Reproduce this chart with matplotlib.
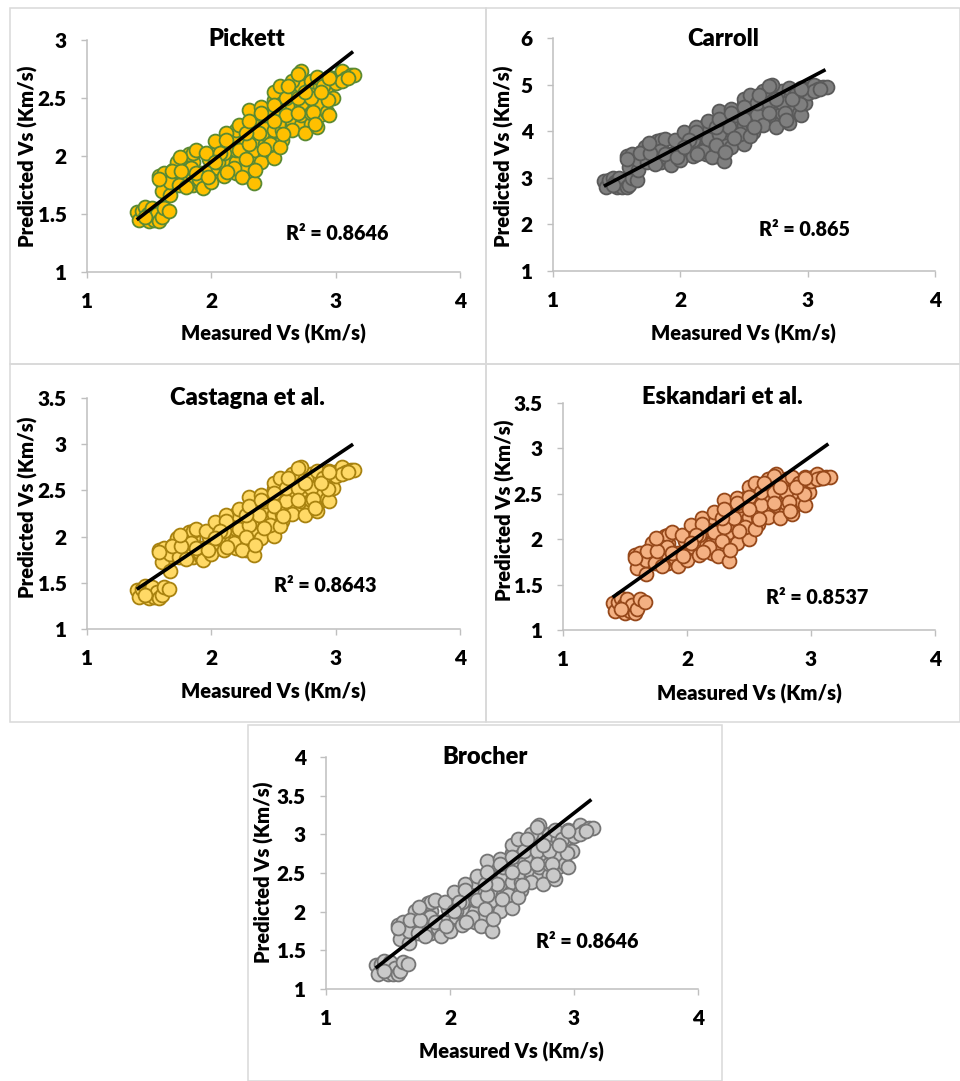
import matplotlib
matplotlib.use("Agg")
import matplotlib.pyplot as plt
from matplotlib.patches import Rectangle

plt.rcParams['font.family'] = ['Lato', 'DejaVu Sans']
plt.rcParams['font.weight'] = 'heavy'

measured_back = [
 1.51,1.47,1.58,1.43,1.60,
 1.65,1.65,1.72,1.72,1.78,1.78,1.85,1.85,1.85,1.92,1.92,1.98,1.98,
 2.05,2.05,2.05,2.12,2.12,2.12,2.20,2.20,2.20,2.20,2.20,
 2.28,2.28,2.28,2.28,2.28,2.35,2.35,2.35,2.35,2.35,2.35,
 2.43,2.43,2.43,2.43,2.43,2.50,2.50,2.50,2.50,2.50,
 2.57,2.57,2.57,2.57,2.57,2.65,2.65,2.65,2.65,
 2.72,2.72,2.72,2.72,2.80,2.80,2.80,2.80,
 2.87,2.87,2.87,2.93,2.93,2.93,3.02,3.08]
pickett_back = [
 1.47,1.52,1.50,1.50,1.78,
 1.75,1.82,1.80,1.88,1.80,1.95,1.75,1.83,1.95,1.75,1.85,1.88,1.97,
 1.85,1.90,2.05,1.90,1.97,2.05,1.85,1.95,2.05,2.14,2.22,
 1.83,1.90,2.03,2.13,2.27,1.95,2.05,2.14,2.22,2.30,2.37,
 2.00,2.10,2.19,2.28,2.35,2.05,2.14,2.22,2.37,2.48,
 2.14,2.22,2.30,2.44,2.50,2.27,2.30,2.44,2.55,
 2.27,2.35,2.44,2.60,2.28,2.37,2.60,2.65,
 2.35,2.44,2.60,2.38,2.55,2.60,2.68,2.70]
carroll_back = [
 2.85,2.93,2.90,2.90,3.38,
 3.33,3.45,3.41,3.55,3.41,3.67,3.33,3.46,3.67,3.33,3.50,3.55,3.70,
 3.50,3.58,3.84,3.58,3.70,3.84,3.50,3.67,3.84,3.99,4.13,
 3.46,3.58,3.81,3.98,4.22,3.67,3.84,3.99,4.13,4.27,4.39,
 3.76,3.93,4.08,4.23,4.35,3.84,3.99,4.13,4.39,4.58,
 3.99,4.13,4.27,4.51,4.61,4.22,4.27,4.51,4.70,
 4.22,4.35,4.51,4.78,4.23,4.39,4.78,4.87,
 4.35,4.51,4.78,4.40,4.70,4.78,4.92,4.95]
castagna_back = [
 1.37,1.42,1.40,1.40,1.81,
 1.78,1.85,1.83,1.91,1.83,1.98,1.78,1.86,1.98,1.78,1.88,1.91,2.00,
 1.88,1.93,2.08,1.93,2.00,2.08,1.88,1.98,2.08,2.17,2.25,
 1.86,1.93,2.06,2.16,2.30,1.98,2.08,2.17,2.25,2.33,2.40,
 2.03,2.13,2.22,2.31,2.38,2.08,2.17,2.25,2.40,2.51,
 2.17,2.25,2.33,2.47,2.53,2.30,2.33,2.47,2.58,
 2.30,2.38,2.47,2.63,2.31,2.40,2.63,2.68,
 2.38,2.47,2.63,2.41,2.58,2.63,2.71,2.72]
eskandari_back = [
 1.23,1.30,1.27,1.27,1.77,
 1.74,1.82,1.79,1.88,1.79,1.96,1.74,1.83,1.96,1.74,1.85,1.88,1.98,
 1.85,1.91,2.08,1.91,1.98,2.08,1.85,1.96,2.08,2.17,2.25,
 1.83,1.91,2.05,2.16,2.30,1.96,2.08,2.17,2.25,2.33,2.40,
 2.02,2.13,2.22,2.31,2.38,2.08,2.17,2.25,2.40,2.50,
 2.17,2.25,2.33,2.46,2.52,2.30,2.33,2.46,2.57,
 2.30,2.38,2.46,2.62,2.31,2.40,2.62,2.66,
 2.38,2.46,2.62,2.41,2.57,2.62,2.68,2.69]
brocher_back = [
 1.23,1.31,1.27,1.27,1.75,
 1.72,1.82,1.79,1.90,1.79,2.01,1.72,1.83,2.01,1.72,1.86,1.90,2.04,
 1.86,1.93,2.15,1.93,2.04,2.15,1.86,2.01,2.15,2.28,2.39,
 1.83,1.93,2.12,2.26,2.46,2.01,2.15,2.28,2.39,2.51,2.61,
 2.08,2.22,2.35,2.48,2.58,2.15,2.28,2.39,2.61,2.76,
 2.28,2.39,2.51,2.71,2.79,2.46,2.51,2.71,2.86,
 2.46,2.58,2.71,2.94,2.48,2.61,2.94,3.01,
 2.58,2.71,2.94,2.62,2.86,2.94,3.05,3.08]

measured = [
 1.40,1.42,1.44,1.47,1.49,1.50,1.52,1.54,1.56,1.58,
 1.60,1.62,1.66,1.47,1.58,1.60,1.62,1.67,1.67,1.69,
 1.72,1.74,1.80,1.82,1.85,1.88,1.84,1.90,1.93,1.88,
 1.96,2.00,2.03,2.05,2.10,2.12,2.10,2.22,2.18,2.25,
 2.22,2.30,2.30,2.28,2.40,2.40,2.38,2.50,2.50,2.47,
 2.55,2.55,2.60,2.65,2.60,2.65,2.72,2.70,2.75,2.80,
 2.85,2.85,2.90,2.95,2.98,2.95,3.00,3.05,3.12,3.15,
 3.08,3.05,2.34,2.35,1.58,1.68,1.76,1.75,1.97,2.13,
 2.42,2.12,2.28,2.30,2.40,2.50,2.50,2.58,2.70,2.82,
 2.83,2.94,2.88,2.70,2.95,3.10,2.07,2.03,2.62,2.75]
pickett = [
 1.52,1.45,1.53,1.56,1.50,1.44,1.55,1.45,1.50,1.44,
 1.47,1.55,1.53,1.47,1.83,1.70,1.85,1.66,1.78,1.88,
 1.95,1.75,1.73,2.02,2.03,2.05,1.90,1.80,1.72,1.85,
 2.03,1.78,2.13,1.95,1.83,2.20,2.03,2.27,1.90,1.82,
 2.05,2.40,2.10,1.97,2.42,1.95,2.20,2.55,1.98,2.10,
 2.08,2.60,2.35,2.22,2.50,2.65,2.73,2.50,2.20,2.50,
 2.25,2.68,2.60,2.35,2.50,2.68,2.63,2.73,2.70,2.70,
 2.67,2.65,1.77,1.88,1.80,1.87,1.87,1.99,1.82,1.86,
 2.06,2.14,2.20,2.30,2.37,2.44,2.30,2.19,2.37,2.38,
 2.28,2.48,2.55,2.71,2.67,2.67,2.03,1.95,2.60,2.55]
carroll = [
 2.93,2.81,2.95,3.00,2.90,2.80,2.99,2.81,2.90,2.80,
 2.85,2.99,2.95,2.85,3.46,3.24,3.50,3.17,3.38,3.55,
 3.67,3.33,3.29,3.79,3.81,3.84,3.58,3.41,3.28,3.50,
 3.81,3.38,3.98,3.67,3.46,4.10,3.81,4.22,3.58,3.45,
 3.84,4.44,3.93,3.70,4.47,3.67,4.10,4.70,3.72,3.93,
 3.89,4.78,4.35,4.13,4.61,4.87,5.00,4.61,4.10,4.61,
 4.18,4.92,4.78,4.35,4.61,4.92,4.83,5.00,4.95,4.95,
 4.90,4.87,3.36,3.55,3.41,3.53,3.53,3.74,3.45,3.52,
 3.86,3.99,4.10,4.27,4.39,4.51,4.27,4.08,4.39,4.40,
 4.23,4.58,4.70,4.97,4.90,4.90,3.81,3.67,4.78,4.70]
castagna = [
 1.42,1.35,1.43,1.46,1.40,1.34,1.45,1.35,1.40,1.34,
 1.37,1.45,1.43,1.37,1.86,1.73,1.88,1.63,1.81,1.91,
 1.98,1.78,1.76,2.05,2.06,2.08,1.93,1.83,1.75,1.88,
 2.06,1.81,2.16,1.98,1.86,2.23,2.06,2.30,1.93,1.85,
 2.08,2.43,2.13,2.00,2.45,1.98,2.23,2.58,2.01,2.13,
 2.11,2.63,2.38,2.25,2.53,2.68,2.75,2.53,2.23,2.53,
 2.28,2.71,2.63,2.38,2.53,2.71,2.66,2.75,2.72,2.72,
 2.70,2.68,1.80,1.91,1.83,1.90,1.90,2.02,1.85,1.89,
 2.09,2.17,2.23,2.33,2.40,2.47,2.33,2.22,2.40,2.41,
 2.31,2.51,2.58,2.74,2.70,2.70,2.06,1.98,2.63,2.58]
eskandari = [
 1.30,1.21,1.31,1.35,1.27,1.19,1.34,1.21,1.27,1.19,
 1.23,1.34,1.31,1.23,1.83,1.68,1.85,1.62,1.77,1.88,
 1.96,1.74,1.71,2.04,2.05,2.08,1.91,1.79,1.70,1.85,
 2.05,1.77,2.16,1.96,1.83,2.23,2.05,2.30,1.91,1.82,
 2.08,2.43,2.13,1.98,2.45,1.96,2.23,2.57,2.00,2.13,
 2.11,2.62,2.38,2.25,2.52,2.66,2.72,2.52,2.23,2.52,
 2.28,2.68,2.62,2.38,2.52,2.68,2.64,2.72,2.69,2.69,
 2.67,2.66,1.76,1.88,1.79,1.87,1.87,2.01,1.82,1.86,
 2.09,2.17,2.23,2.33,2.40,2.46,2.33,2.22,2.40,2.41,
 2.31,2.50,2.57,2.70,2.67,2.67,2.05,1.96,2.62,2.57]
brocher = [
 1.31,1.20,1.32,1.36,1.27,1.19,1.35,1.20,1.27,1.19,
 1.23,1.35,1.32,1.23,1.83,1.65,1.86,1.59,1.75,1.90,
 2.01,1.72,1.69,2.11,2.12,2.15,1.93,1.79,1.68,1.86,
 2.12,1.75,2.26,2.01,1.83,2.36,2.12,2.46,1.93,1.82,
 2.15,2.65,2.22,2.04,2.68,2.01,2.36,2.86,2.05,2.22,
 2.19,2.94,2.58,2.39,2.79,3.01,3.12,2.79,2.36,2.79,
 2.42,3.05,2.94,2.58,2.79,3.05,2.98,3.12,3.08,3.08,
 3.04,3.01,1.75,1.90,1.79,1.89,1.89,2.06,1.82,1.87,
 2.16,2.28,2.36,2.51,2.61,2.71,2.51,2.35,2.61,2.62,
 2.48,2.76,2.86,3.09,3.04,3.04,2.12,2.01,2.94,2.86]

trend_x = [1.40, 3.14]
pickett_trend = [1.45, 2.90]
carroll_trend = [2.82, 5.32]
castagna_trend = [1.43, 3.00]
eskandari_trend = [1.36, 3.05]
brocher_trend = [1.27, 3.45]

x_ticks = [1, 2, 3, 4]
pickett_ticks = [1, 1.5, 2, 2.5, 3]
carroll_ticks = [1, 2, 3, 4, 5, 6]
castagna_ticks = [1, 1.5, 2, 2.5, 3, 3.5]
eskandari_ticks = [1, 1.5, 2, 2.5, 3, 3.5]
brocher_ticks = [1, 1.5, 2, 2.5, 3, 3.5, 4]

W, H = 960, 1081
fig = plt.figure(figsize=(W/100, H/100), dpi=100, facecolor='white')

def fx(p): return p / W
def fy(p): return 1 - p / H

panels = [
 dict(name='Pickett', y=pickett_back + pickett, tr=pickett_trend, ticks=pickett_ticks, fill='#FFC000', edge='#5B8A32',
      frame=(10,8,486,364), ax=(87,460,272,40), title=(247,39), r2='R² = 0.8646', rp=(337,233),
      xl=(273,334), yl=(28,156)),
 dict(name='Carroll', y=carroll_back + carroll, tr=carroll_trend, ticks=carroll_ticks, fill='#7F7F7F', edge='#5A5A5A',
      frame=(486,8,960,364), ax=(553,935,271,38), title=(723,39), r2='R² = 0.865', rp=(804,229),
      xl=(743,334), yl=(504,156)),
 dict(name='Castagna et al.', y=castagna_back + castagna, tr=castagna_trend, ticks=castagna_ticks, fill='#FFD966', edge='#A8820F',
      frame=(10,364,486,722), ax=(87,460,629,398), title=(247,398), r2='R² = 0.8643', rp=(325,585),
      xl=(273,692), yl=(28,507)),
 dict(name='Eskandari et al.', y=eskandari_back + eskandari, tr=eskandari_trend, ticks=eskandari_ticks, fill='#F4B183', edge='#96481A',
      frame=(486,364,960,722), ax=(563,935,630,403), title=(722,397), r2='R² = 0.8537', rp=(817,597),
      xl=(749,694), yl=(505,510)),
 dict(name='Brocher', y=brocher_back + brocher, tr=brocher_trend, ticks=brocher_ticks, fill='#C9C9C9', edge='#757575',
      frame=(248,725,722,1081), ax=(326,698,989,757), title=(485,757), r2='R² = 0.8646', rp=(587,942),
      xl=(511,1052), yl=(264,872)),
]

GRAY = '#BFBFBF'
TICK = 15
LABEL = 14.5
for p in panels:
    x0, y0, x1, y1 = p['frame']
    fig.add_artist(Rectangle((fx(x0), fy(y1)), (x1-x0)/W, (y1-y0)/H, transform=fig.transFigure,
                             fill=False, edgecolor='#D9D9D9', linewidth=1.1))
    l, r, b, t = p['ax']
    ax = fig.add_axes([fx(l), fy(b), (r-l)/W, (b-t)/H])
    ax.patch.set_alpha(0)
    ax.scatter(measured_back + measured, p['y'], s=100, facecolor=p['fill'], edgecolor=p['edge'], linewidth=1.3,
               clip_on=False, zorder=3)
    ax.plot(trend_x, p['tr'], color='black', lw=2.6, solid_capstyle='butt', zorder=4)
    ax.set_xlim(1, 4)
    ax.set_ylim(p['ticks'][0], p['ticks'][-1])
    ax.set_xticks(x_ticks)
    ax.set_yticks(p['ticks'])
    ax.set_xticklabels([str(v) for v in x_ticks])
    ax.set_yticklabels([f'{v:g}' for v in p['ticks']])
    for s in ('top', 'right'):
        ax.spines[s].set_visible(False)
    for s in ('left', 'bottom'):
        ax.spines[s].set_color(GRAY)
        ax.spines[s].set_linewidth(1.1)
    ax.tick_params(axis='x', direction='out', length=4.5, width=1.0, color=GRAY, labelsize=TICK, pad=10)
    ax.tick_params(axis='y', direction='out', length=4.5, width=1.0, color=GRAY, labelsize=TICK, pad=10)
    fig.text(fx(p['title'][0]), fy(p['title'][1]), p['name'], ha='center', va='center', fontsize=17, fontweight='heavy')
    fig.text(fx(p['rp'][0]), fy(p['rp'][1]), p['r2'], ha='center', va='center', fontsize=14.2, fontweight='heavy')
    fig.text(fx(p['xl'][0]), fy(p['xl'][1]), 'Measured Vs (Km/s)', ha='center', va='center', fontsize=LABEL, fontweight='heavy')
    fig.text(fx(p['yl'][0]), fy(p['yl'][1]), 'Predicted Vs (Km/s)', ha='center', va='center', rotation=90, fontsize=LABEL, fontweight='heavy')

fig.savefig('out.png', dpi=100, facecolor='white')
